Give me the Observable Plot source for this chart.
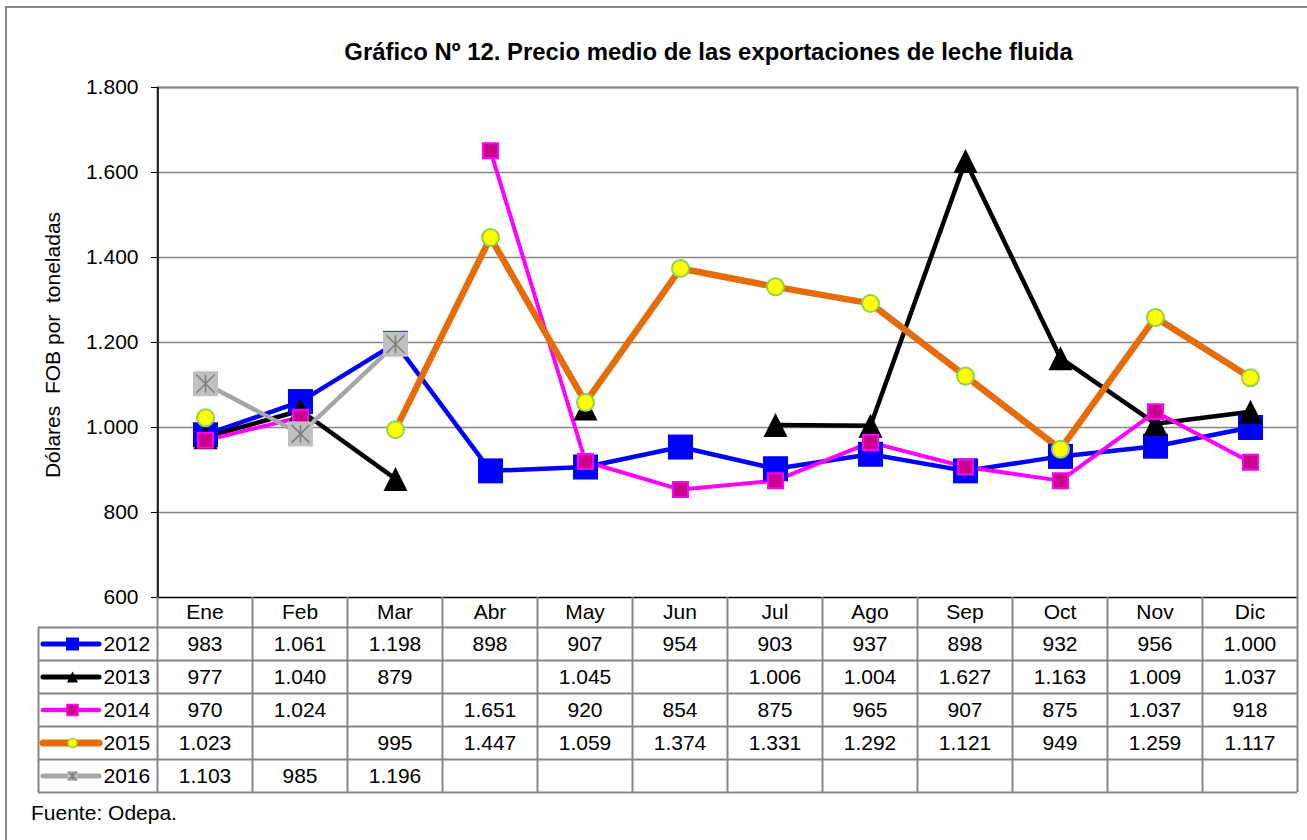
<!DOCTYPE html>
<html>
<head>
<meta charset="utf-8">
<script src="https://cdn.jsdelivr.net/npm/d3@7"></script>
<script src="https://cdn.jsdelivr.net/npm/@observablehq/plot@0.6"></script>
<style>
  html, body { margin: 0; padding: 0; background: #fff; }
  #wrap { position: relative; width: 1307px; height: 840px; overflow: hidden; background: #fff;
          font-family: 'Liberation Sans', Arial, sans-serif; color: #000; }
  #border { position: absolute; left: 5px; top: 6px; width: 1310px; height: 850px; border: 2px solid #868686; box-sizing: border-box; }
  #title { position: absolute; left: 708.5px; top: 40px; transform: translateX(-50%); white-space: nowrap;
           font-weight: bold; font-size: 23.9px; line-height: 23.9px; }
  #ylabel { position: absolute; left: 52px; top: 345px; transform: translate(-50%, -50%) rotate(-90deg);
            white-space: pre; font-size: 21px; line-height: 21px; }
  #chart { position: absolute; left: 0; top: 0; }
  #table { position: absolute; left: 0; top: 590px; }
  #caption { position: absolute; left: 31px; top: 802px; font-size: 21px; line-height: 21px; white-space: nowrap; }
</style>
</head>
<body>
<div id="wrap">
  <div id="border"></div>
  <div id="chart"></div>
  <div id="table"></div>
  <div id="title"></div>
  <div id="ylabel"></div>
  <div id="caption"></div>
</div>
<script>
// ---------- DATA ----------
const titleText = "Gráfico Nº 12. Precio medio de las exportaciones de leche fluida";
const yLabelText = "Dólares  FOB por  toneladas";
const captionText = "Fuente: Odepa.";
const months = ["Ene","Feb","Mar","Abr","May","Jun","Jul","Ago","Sep","Oct","Nov","Dic"];
const years = ["2012","2013","2014","2015","2016"];
const v2012 = [983, 1061, 1198, 898, 907, 954, 903, 937, 898, 932, 956, 1000];
const v2013 = [977, 1040, 879, null, 1045, null, 1006, 1004, 1627, 1163, 1009, 1037];
const v2014 = [970, 1024, null, 1651, 920, 854, 875, 965, 907, 875, 1037, 918];
const v2015 = [1023, null, 995, 1447, 1059, 1374, 1331, 1292, 1121, 949, 1259, 1117];
const v2016 = [1103, 985, 1196, null, null, null, null, null, null, null, null, null];
const yTicks = [600, 800, 1000, 1200, 1400, 1600, 1800];

// ---------- SETUP ----------
document.getElementById("title").textContent = titleText;
document.getElementById("ylabel").textContent = yLabelText;
document.getElementById("caption").textContent = captionText;

const values = [v2012, v2013, v2014, v2015, v2016];
const rows = years.flatMap((yr, s) => months.map((m, i) => ({year: yr, s, month: m, i, value: values[s][i]})));
const locale = d3.formatLocale({decimal: ",", thousands: ".", grouping: [3], currency: ["$", ""]});
const fmt = locale.format(",d");

// custom symbols (size = r*r*PI in Plot)
const rOf = size => Math.sqrt(size / Math.PI);
const sq = {draw(ctx, size) { const r = rOf(size); ctx.moveTo(-r, -r); ctx.lineTo(r, -r); ctx.lineTo(r, r); ctx.lineTo(-r, r); ctx.closePath(); }};
const tri = {draw(ctx, size) { const r = rOf(size); ctx.moveTo(0, -r); ctx.lineTo(r, r); ctx.lineTo(-r, r); ctx.closePath(); }};
const star = {draw(ctx, size) { const r = rOf(size);
  ctx.moveTo(-r, -r); ctx.lineTo(r, r); ctx.moveTo(r, -r); ctx.lineTo(-r, r); ctx.moveTo(0, -r); ctx.lineTo(0, r); }};

const styles = {
  "2012": {stroke: "#0000ff", lw: 4.5, sym: sq, r: 12.5, fill: "#0000ff", ms: "none", msw: 0, lr: 6.5, llw: 5},
  "2013": {stroke: "#000000", lw: 4.5, sym: tri, r: 12, fill: "#000000", ms: "none", msw: 0, lr: 5.5, llw: 5},
  "2014": {stroke: "#ff00ff", lw: 4, sym: sq, r: 7.5, fill: "#c8008c", ms: "#ff00ff", msw: 2, lr: 5.5, llw: 4.5},
  "2015": {stroke: "#e46c0a", lw: 6.5, sym: "circle", r: 8.5, fill: "#ffff00", ms: "#92d050", msw: 2, lr: 4.5, llw: 7},
  "2016": {stroke: "#a6a6a6", lw: 4.5, sym: sq, r: 12.5, fill: "#c0c0c0", ms: "none", msw: 0, lr: 5, llw: 5, star: true}
};

const FONT = "'Liberation Sans', Arial, sans-serif";
const W = 1307, ML = 157, MR = 10;
const step = (W - ML - MR) / months.length;

// ---------- MAIN CHART ----------
const mainMarks = [
  Plot.ruleY(yTicks.slice(1), {stroke: "#868686", strokeWidth: 1.5}),
  Plot.frame({stroke: "#868686", strokeWidth: 2}),
  Plot.ruleY([600], {stroke: "#000", strokeWidth: 1.2})
];
for (const yr of years) {
  const st = styles[yr];
  mainMarks.push(Plot.line(rows.filter(d => d.year === yr), {
    x: "month", y: "value", stroke: st.stroke, strokeWidth: st.lw, strokeLinejoin: "round", strokeLinecap: "round"
  }));
}
for (const yr of years) {
  const st = styles[yr];
  const pts = rows.filter(d => d.year === yr && d.value != null);
  mainMarks.push(Plot.dot(pts, {x: "month", y: "value", symbol: st.sym, r: st.r, fill: st.fill, stroke: st.ms, strokeWidth: st.msw}));
  if (st.star) mainMarks.push(Plot.dot(pts, {x: "month", y: "value", symbol: star, r: 9, fill: "none", stroke: "#7f7f7f", strokeWidth: 1.6}));
}
mainMarks.push(Plot.ruleX([months[0]], {y1: 600, y2: 1800, dx: -step / 2, stroke: "#000", strokeWidth: 1.5}));
mainMarks.push(Plot.axisY({ticks: yTicks, tickFormat: fmt, tickSize: 6, tickPadding: 13, label: null, fontSize: 21}));

const chart = Plot.plot({
  width: W, height: 600, marginTop: 87, marginBottom: 3, marginLeft: ML, marginRight: MR,
  style: {fontFamily: FONT, fontSize: "21px", background: "transparent", overflow: "visible"},
  x: {type: "point", domain: months, padding: 0.5, axis: null},
  y: {domain: [600, 1800], axis: null},
  marks: mainMarks
});
document.getElementById("chart").appendChild(chart);

// ---------- DATA TABLE ----------
const u = px => (px - ML) / step;        // pixel -> column units
const X0 = u(38);                        // left edge of legend column
const H0 = -30 / 33;                     // header row top (row units)
const cells = rows.filter(d => d.value != null);
const tMarks = [
  Plot.ruleY(d3.range(0, years.length + 1), {y: d => d, x1: X0, x2: months.length, stroke: "#868686", strokeWidth: 2}),
  Plot.ruleX([X0], {y1: 0, y2: years.length, stroke: "#868686", strokeWidth: 2}),
  Plot.ruleX(d3.range(0, months.length + 1), {x: d => d, y1: H0, y2: years.length, stroke: "#868686", strokeWidth: 2}),
  Plot.text(months, {x: (d, i) => i + 0.5, y: H0 / 2, text: d => d, fontSize: 21}),
  Plot.text(cells, {x: d => d.i + 0.5, y: d => d.s + 0.5, text: d => fmt(d.value), fontSize: 21}),
  Plot.text(years, {x: u(103), y: (d, i) => i + 0.5, text: d => d, textAnchor: "start", fontSize: 21})
];
years.forEach((yr, s) => {
  const st = styles[yr];
  tMarks.push(Plot.ruleY([s + 0.5], {x1: u(43), x2: u(99), stroke: st.stroke, strokeWidth: st.llw, strokeLinecap: "round"}));
  tMarks.push(Plot.dot([s + 0.5], {x: u(72), y: d => d, symbol: st.sym, r: st.lr, fill: st.fill, stroke: st.ms, strokeWidth: st.msw ? 1.5 : 0}));
  if (st.star) tMarks.push(Plot.dot([s + 0.5], {x: u(72), y: d => d, symbol: star, r: 4, fill: "none", stroke: "#7f7f7f", strokeWidth: 1.6}));
});
const table = Plot.plot({
  width: W, height: 210, marginTop: 7, marginBottom: 8, marginLeft: 38, marginRight: MR,
  style: {fontFamily: FONT, fontSize: "21px", background: "transparent", overflow: "visible"},
  x: {domain: [X0, months.length], axis: null},
  y: {domain: [H0, years.length], range: [7, 202], axis: null},
  marks: tMarks
});
document.getElementById("table").appendChild(table);
</script>
</body>
</html>
